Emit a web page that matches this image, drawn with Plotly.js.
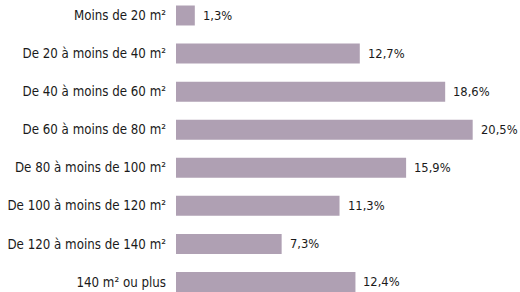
<!DOCTYPE html>
<html><head><meta charset="utf-8">
<script src="https://cdn.plot.ly/plotly-3.0.1.min.js"></script>
<style>html,body{margin:0;padding:0;background:#fff}#c{width:520px;height:292px}</style>
</head><body><div id="c"></div>
<script>
const categories = ["Moins de 20 m²","De 20 à moins de 40 m²","De 40 à moins de 60 m²","De 60 à moins de 80 m²","De 80 à moins de 100 m²","De 100 à moins de 120 m²","De 120 à moins de 140 m²","140 m² ou plus"];
const values = [1.3, 12.7, 18.6, 20.5, 15.9, 11.3, 7.3, 12.4];
const valueLabels = ["1,3%","12,7%","18,6%","20,5%","15,9%","11,3%","7,3%","12,4%"];

const FONT = "'DejaVu Sans Condensed', 'Liberation Sans Narrow', sans-serif";
const trace = {
  type: 'bar', orientation: 'h',
  x: values, y: categories,
  marker: {color: '#afa0b3'},
  hoverinfo: 'skip'
};
const annotations = categories.map((c, i) => ({
  x: values[i], y: c, xref: 'x', yref: 'y',
  text: valueLabels[i], showarrow: false, xanchor: 'left', xshift: 6,
  font: {family: FONT, size: 12.8, color: '#1a1a1a'}
}));
const layout = {
  width: 520, height: 292,
  margin: {l: 176, r: 0, t: 0, b: 0, pad: 0},
  paper_bgcolor: '#fff', plot_bgcolor: '#fff',
  bargap: 0.475,
  showlegend: false,
  xaxis: {range: [0, 23.77], visible: false, fixedrange: true},
  yaxis: {type: 'category', range: [7.263, -0.407], showgrid: false, zeroline: false, showline: false,
          ticks: '', ticklabelstandoff: 9, tickfont: {family: FONT, size: 13.2, color: '#1a1a1a'}},
  annotations: annotations,
  font: {family: FONT}
};
Plotly.newPlot('c', [trace], layout, {displayModeBar: false, staticPlot: true});
</script></body></html>
